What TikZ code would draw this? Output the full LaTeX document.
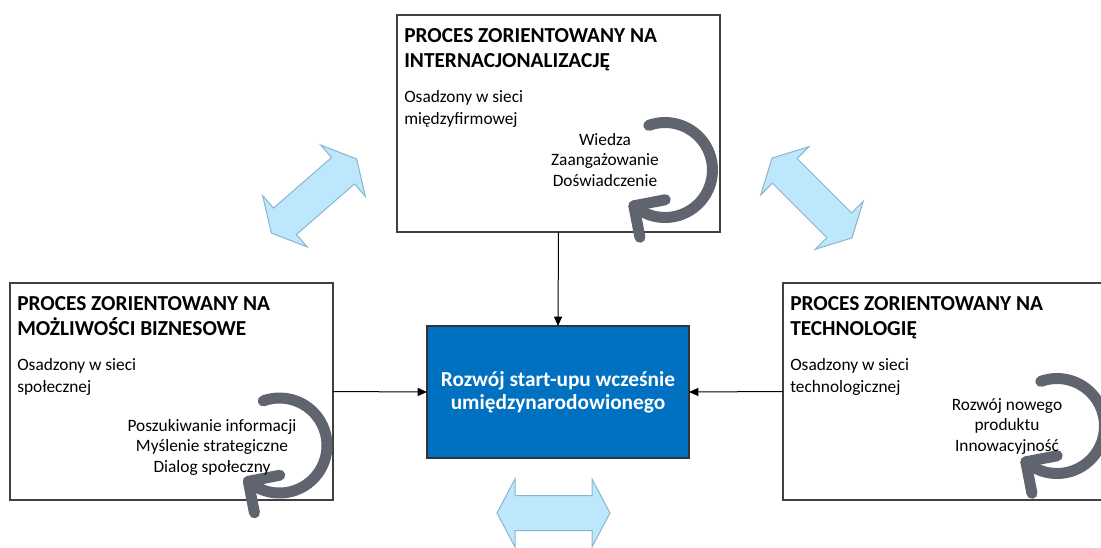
\documentclass[tikz,border=0pt]{standalone}
\usepackage{fontspec}
\setmainfont{Carlito}
\usetikzlibrary{calc,arrows.meta}

\definecolor{boxline}{RGB}{64,64,64}
\definecolor{startblue}{RGB}{0,112,192}
\definecolor{linkfill}{RGB}{189,231,252}
\definecolor{linkline}{RGB}{140,180,205}
\definecolor{cyclegrey}{RGB}{95,100,110}

\begin{document}
\begin{tikzpicture}[x=0.75pt,y=0.75pt,
  procbox/.style={draw=boxline, line width=0.9pt, inner sep=0pt, outer sep=0pt,
    minimum width=242.25pt, minimum height=162.75pt, anchor=north west},
  startbox/.style={draw=black!80, line width=0.9pt, fill=startblue, text=white,
    inner sep=0pt, outer sep=0pt, minimum width=196.5pt, minimum height=99pt,
    font=\fontsize{16}{17.5}\selectfont\bfseries, align=center},
  % multi-line nodes below are anchored at the baseline of their last line
  proctitle/.style={anchor=base west, inner sep=0pt, align=left,
    font=\fontsize{16}{18.75}\selectfont\bfseries},
  procbody/.style={anchor=base west, inner sep=0pt, align=left,
    font=\fontsize{13}{16.5}\selectfont},
  cyclelabel/.style={anchor=base, inner sep=0pt, align=center,
    font=\fontsize{13}{15.2}\selectfont},
  feed/.style={draw=black, line width=0.75pt, -{Triangle[length=7pt,width=6pt]}},
  cyclestroke/.style={draw=cyclegrey, line width=8.25pt, line cap=round, line join=round},
  cycle arrow/.pic={
    \draw[cyclestroke] (110:47.5) arc[start angle=110, end angle=-131, radius=47.5];
    \draw[cyclestroke] (-131:47.5) ++(11:32) -- (-131:47.5) -- ++(-79:32);
  },
  double link/.pic={
    \draw[fill=linkfill, draw=linkline, line width=0.75pt, line join=miter]
      (-56.5,0) -- (-38.5,34) -- (-38.5,17.5) -- (38.5,17.5) -- (38.5,34)
      -- (56.5,0) -- (38.5,-34) -- (38.5,-17.5) -- (-38.5,-17.5) -- (-38.5,-34) -- cycle;
  }]

\useasboundingbox (0,0) rectangle (1101,-547);

% the three process boxes
\node[procbox] (intl) at (397,-15) {};
\node[procbox] (biz)  at (10,-283) {};
\node[procbox] (tech) at (783,-283) {};

% central outcome
\node[startbox] (core) at (558,-392) {Rozwój start-upu wcześnie\\umiędzynarodowionego};

% box headings and network descriptions
\node[proctitle] (intl-title) at ($(intl.north west)+(7,-52)$) {PROCES ZORIENTOWANY NA\\INTERNACJONALIZACJĘ};
\node[procbody]  (intl-net)   at ($(intl.north west)+(7,-109)$) {Osadzony w sieci\\międzyfirmowej};
\node[proctitle] (biz-title)  at ($(biz.north west)+(7,-52)$)  {PROCES ZORIENTOWANY NA\\MOŻLIWOŚCI BIZNESOWE};
\node[procbody]  (biz-net)    at ($(biz.north west)+(7,-109)$)  {Osadzony w sieci\\społecznej};
\node[proctitle] (tech-title) at ($(tech.north west)+(7,-52)$) {PROCES ZORIENTOWANY NA\\TECHNOLOGIĘ};
\node[procbody]  (tech-net)   at ($(tech.north west)+(7,-109)$) {Osadzony w sieci\\technologicznej};

% circular arrows with their activities
\pic at (665,-170) {cycle arrow};
\pic at (279.5,-445.5) {cycle arrow};
\pic at (1057,-426) {cycle arrow};
\node[cyclelabel] (intl-act) at (605,-186) {Wiedza\\Zaangażowanie\\Doświadczenie};
\node[cyclelabel] (biz-act)  at (212,-472) {Poszukiwanie informacji\\Myślenie strategiczne\\Dialog społeczny};
\node[cyclelabel] (tech-act) at (1007,-451) {Rozwój nowego\\produktu\\Innowacyjność};

% two-way links between the processes
\pic[rotate=41]  at (314,-196) {double link};
\pic[rotate=-45] at (812,-198) {double link};
\pic at (553.5,-513) {double link};

% feeds into the central outcome
\draw[feed] (intl.south) -- (core.north);
\draw[feed] (biz.east) -- (core.west);
\draw[feed] (tech.west) -- (core.east);

\end{tikzpicture}
\end{document}
